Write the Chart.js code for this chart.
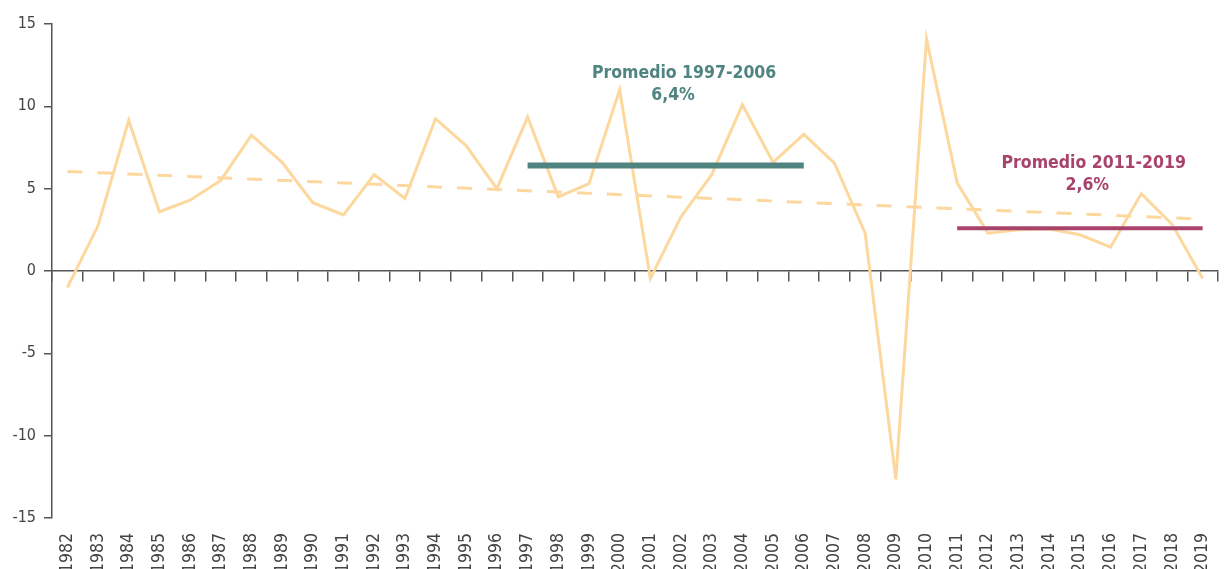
<!DOCTYPE html>
<html>
<head>
<meta charset="utf-8">
<script src="https://cdn.jsdelivr.net/npm/chart.js@4/dist/chart.umd.min.js"></script>
<style>
  html, body { margin: 0; padding: 0; background: #fff; }
  #wrap { width: 1224px; height: 569px; position: relative; }
</style>
</head>
<body>
<div id="wrap"><canvas id="c"></canvas></div>
<script>
const years = ['1982','1983','1984','1985','1986','1987','1988','1989','1990','1991',
  '1992','1993','1994','1995','1996','1997','1998','1999','2000','2001',
  '2002','2003','2004','2005','2006','2007','2008','2009','2010','2011',
  '2012','2013','2014','2015','2016','2017','2018','2019'];
const growth = [-1.0, 2.75, 9.15, 3.6, 4.3, 5.5, 8.25, 6.6, 4.15, 3.4,
  5.85, 4.4, 9.25, 7.6, 5.0, 9.35, 4.5, 5.3, 11.0, -0.45,
  3.3, 5.85, 10.1, 6.6, 8.3, 6.55, 2.3, -12.65, 14.1, 5.35,
  2.3, 2.5, 2.55, 2.2, 1.45, 4.7, 2.85, -0.45];
const trendEnds = [6.05, 3.15];           // trend line value at 1982 and at 2019
const avgPeriod1 = ['1997', '2006'];
const avgValue1 = 6.4;
const avgPeriod2 = ['2011', '2019'];
const avgValue2 = 2.6;
const yTicks = [-15, -10, -5, 0, 5, 10, 15];

const trendData = years.map((y, i) => i === 0 ? trendEnds[0] : (i === years.length - 1 ? trendEnds[1] : null));
const avg1Data = years.map(y => (y >= avgPeriod1[0] && y <= avgPeriod1[1]) ? avgValue1 : null);
const avg2Data = years.map(y => (y >= avgPeriod2[0] && y <= avgPeriod2[1]) ? avgValue2 : null);

const FONT = "'DejaVu Sans Condensed', 'Liberation Sans', sans-serif";
const TEAL = '#4F8481';
const PURPLE = '#A8436B';
const ORANGE = '#FDD89E';
const AXIS = '#555555';

const annotations = {
  id: 'annotations',
  afterDatasetsDraw(chart) {
    const ctx = chart.ctx, xs = chart.scales.x, ys = chart.scales.y;
    const items = [
      { text: 'Promedio 1997-2006', x: 20.1, y: 11.72, color: TEAL },
      { text: '6,4%', x: 19.74, y: 10.38, color: TEAL },
      { text: 'Promedio 2011-2019', x: 33.45, y: 6.27, color: PURPLE },
      { text: '2,6%', x: 33.24, y: 4.92, color: PURPLE }
    ];
    ctx.save();
    ctx.font = "bold 17.5px " + FONT;
    ctx.textAlign = 'center';
    ctx.textBaseline = 'alphabetic';
    items.forEach(it => {
      ctx.fillStyle = it.color;
      ctx.fillText(it.text, xs.getPixelForValue(it.x), ys.getPixelForValue(it.y));
    });
    ctx.restore();
  }
};

new Chart(document.getElementById('c'), {
  type: 'line',
  data: {
    labels: years,
    datasets: [
      { label: 'Promedio 1997-2006', data: avg1Data, borderColor: TEAL, borderWidth: 6, pointRadius: 0, borderCapStyle: 'butt', spanGaps: false },
      { label: 'Promedio 2011-2019', data: avg2Data, borderColor: PURPLE, borderWidth: 4, pointRadius: 0, borderCapStyle: 'butt', spanGaps: false },
      { label: 'Crecimiento', data: growth, borderColor: ORANGE, borderWidth: 3, pointRadius: 0, tension: 0 },
      { label: 'Tendencia', data: trendData, borderColor: ORANGE, borderWidth: 3, borderDash: [15, 15], pointRadius: 0, spanGaps: true }
    ]
  },
  options: {
    responsive: true,
    maintainAspectRatio: false,
    animation: false,
    layout: { padding: { top: 24, right: 6, left: 0, bottom: 0 } },
    plugins: { legend: { display: false }, tooltip: { enabled: false } },
    scales: {
      x: {
        type: 'category',
        offset: true,
        position: 'bottom',
        grid: { display: false },
        border: { display: false },
        ticks: {
          autoSkip: false, minRotation: 90, maxRotation: 90, padding: 7,
          color: '#444', font: { family: FONT, size: 17.5 }
        },
        afterFit(s) { s.height = 51; s.paddingLeft = 0; s.paddingRight = 0; }
      },
      x0: {
        type: 'category',
        labels: years,
        offset: true,
        position: { y: 0 },
        grid: { display: true, drawOnChartArea: false, drawTicks: true, tickLength: 10, color: AXIS, offset: true, lineWidth: 1.5 },
        border: { display: true, color: AXIS, width: 1.5 },
        ticks: { display: false }
      },
      y: {
        min: -15, max: 15,
        afterBuildTicks(s) { s.ticks = yTicks.map(v => ({ value: v })); },
        grid: { display: true, drawOnChartArea: false, drawTicks: true, tickLength: 8, color: AXIS, lineWidth: 1.5 },
        border: { display: true, color: AXIS, width: 1.5 },
        ticks: { padding: 8, color: '#444', font: { family: FONT, size: 16 } },
        afterFit(s) { s.width = 52; }
      }
    }
  },
  plugins: [annotations]
});
</script>
</body>
</html>
